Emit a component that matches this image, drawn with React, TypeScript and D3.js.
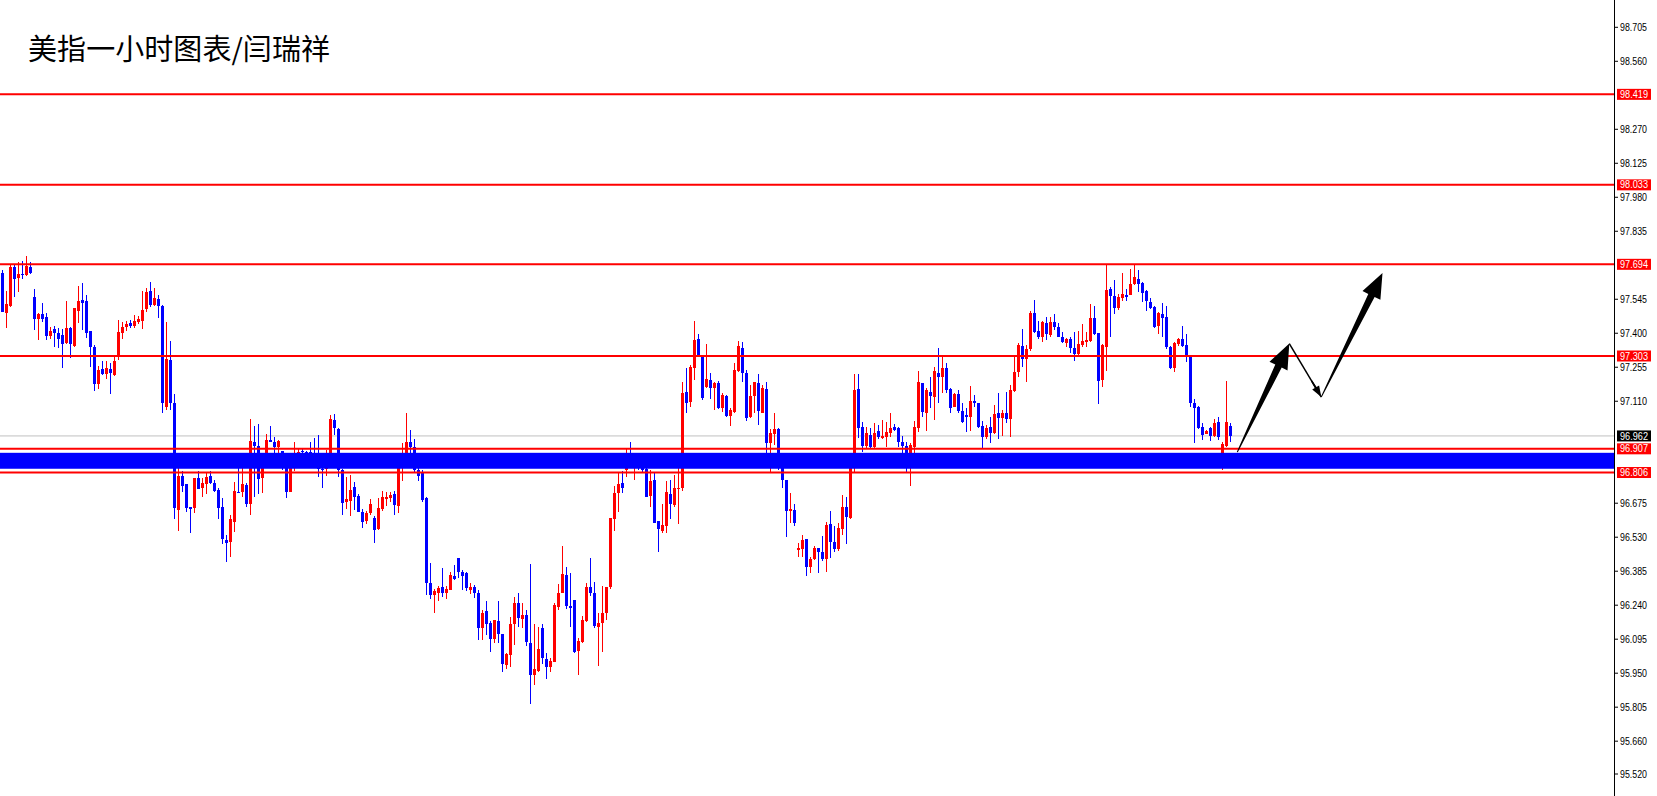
import * as d3 from 'd3';

const title = '美指一小时图表/闫瑞祥';

// hourly OHLC (oldest first)
const opens = [
  97.659, 97.487, 97.516, 97.684, 97.636, 97.653, 97.650, 97.684, 97.555, 97.459,
  97.482, 97.469, 97.390, 97.418, 97.401, 97.393, 97.358, 97.424, 97.347, 97.496,
  97.540, 97.538, 97.411, 97.343, 97.185, 97.247, 97.226, 97.247, 97.222, 97.303,
  97.400, 97.425, 97.445, 97.430, 97.449, 97.454, 97.505, 97.581, 97.522, 97.548,
  97.516, 97.087, 97.286, 97.101, 96.647, 96.791, 96.757, 96.660, 96.656, 96.784,
  96.741, 96.758, 96.791, 96.760, 96.733, 96.659, 96.518, 96.508, 96.596, 96.724,
  96.724, 96.752, 96.670, 96.936, 96.918, 96.781, 96.877, 96.944, 96.936, 96.916,
  96.899, 96.867, 96.724, 96.828, 96.871, 96.899, 96.894, 96.895, 96.888, 96.874,
  96.822, 96.819, 96.852, 97.030, 96.991, 96.816, 96.681, 96.686, 96.744, 96.706,
  96.639, 96.599, 96.632, 96.613, 96.565, 96.651, 96.693, 96.698, 96.714, 96.664,
  96.831, 96.866, 96.938, 96.916, 96.816, 96.802, 96.698, 96.336, 96.283, 96.290,
  96.317, 96.290, 96.304, 96.364, 96.440, 96.383, 96.376, 96.304, 96.318, 96.293,
  96.141, 96.216, 96.162, 96.094, 96.173, 96.116, 95.984, 96.027, 96.158, 96.248,
  96.183, 96.200, 96.077, 95.942, 95.960, 96.141, 96.009, 95.977, 95.998, 96.233,
  96.293, 96.368, 96.236, 96.262, 96.044, 96.084, 96.173, 96.316, 96.293, 96.148,
  96.162, 96.205, 96.316, 96.606, 96.717, 96.760, 96.816, 96.888, 96.838, 96.852,
  96.842, 96.819, 96.706, 96.774, 96.599, 96.558, 96.578, 96.714, 96.667, 96.735,
  96.738, 97.149, 97.108, 97.250, 97.376, 97.304, 97.172, 97.201, 97.168, 97.186,
  97.080, 97.134, 97.047, 97.064, 97.239, 97.338, 97.232, 97.044, 97.132, 97.186,
  97.061, 97.162, 96.930, 96.969, 96.991, 96.859, 96.774, 96.643, 96.646, 96.477,
  96.478, 96.521, 96.401, 96.435, 96.482, 96.465, 96.435, 96.585, 96.511, 96.479,
  96.563, 96.660, 96.613, 96.848, 97.162, 97.001, 96.921, 96.966, 96.916, 96.983,
  96.952, 96.959, 96.973, 96.999, 96.997, 96.938, 96.921, 96.866, 96.916, 96.997,
  97.186, 97.058, 97.151, 97.130, 97.229, 97.212, 97.253, 97.161, 97.087, 97.141,
  97.068, 97.051, 97.044, 97.111, 97.101, 97.004, 96.956, 96.999, 96.976, 97.061,
  97.040, 97.061, 97.033, 97.155, 97.233, 97.346, 97.289, 97.331, 97.488, 97.410,
  97.383, 97.445, 97.393, 97.447, 97.425, 97.385, 97.360, 97.376, 97.338, 97.310,
  97.350, 97.364, 97.367, 97.466, 97.400, 97.201, 97.343, 97.589, 97.559, 97.506,
  97.552, 97.563, 97.563, 97.609, 97.632, 97.613, 97.581, 97.535, 97.513, 97.431,
  97.482, 97.468, 97.343, 97.253, 97.353, 97.376, 97.350, 97.300, 97.101, 97.084,
  96.999, 96.970, 96.994, 96.962, 97.020, 96.835, 96.919, 97.004,
];

const highs = [
  97.670, 97.581, 97.696, 97.696, 97.703, 97.708, 97.730, 97.703, 97.589, 97.487,
  97.531, 97.486, 97.427, 97.432, 97.421, 97.417, 97.538, 97.428, 97.509, 97.602,
  97.613, 97.563, 97.411, 97.350, 97.260, 97.281, 97.281, 97.274, 97.303, 97.456,
  97.449, 97.454, 97.456, 97.478, 97.474, 97.581, 97.595, 97.619, 97.595, 97.565,
  97.521, 97.448, 97.367, 97.141, 96.877, 96.812, 96.757, 96.660, 96.784, 96.814,
  96.781, 96.802, 96.814, 96.776, 96.738, 96.696, 96.539, 96.624, 96.767, 96.824,
  96.842, 96.761, 97.034, 97.006, 97.014, 96.891, 96.970, 97.004, 96.956, 96.945,
  96.899, 96.874, 96.845, 96.934, 96.906, 96.905, 96.897, 96.938, 96.953, 96.966,
  96.859, 96.900, 97.051, 97.057, 96.994, 96.822, 96.785, 96.795, 96.765, 96.714,
  96.649, 96.643, 96.694, 96.620, 96.698, 96.727, 96.721, 96.724, 96.727, 96.849,
  96.930, 97.058, 96.987, 96.948, 96.838, 96.816, 96.703, 96.421, 96.307, 96.321,
  96.398, 96.321, 96.381, 96.411, 96.442, 96.390, 96.380, 96.333, 96.326, 96.304,
  96.219, 96.257, 96.172, 96.179, 96.257, 96.119, 96.034, 96.191, 96.276, 96.293,
  96.248, 96.219, 96.415, 96.159, 96.148, 96.159, 96.034, 96.013, 96.250, 96.329,
  96.492, 96.401, 96.376, 96.262, 96.101, 96.195, 96.336, 96.440, 96.337, 96.205,
  96.321, 96.318, 96.610, 96.748, 96.805, 96.812, 96.906, 96.938, 96.862, 96.859,
  96.852, 96.824, 96.816, 96.802, 96.599, 96.671, 96.770, 96.774, 96.795, 96.834,
  97.192, 97.250, 97.265, 97.452, 97.397, 97.307, 97.354, 97.229, 97.194, 97.196,
  97.144, 97.137, 97.080, 97.272, 97.367, 97.363, 97.243, 97.179, 97.194, 97.225,
  97.179, 97.191, 96.990, 97.058, 96.994, 96.866, 96.776, 96.720, 96.671, 96.506,
  96.539, 96.521, 96.444, 96.492, 96.486, 96.535, 96.596, 96.641, 96.579, 96.589,
  96.710, 96.703, 96.888, 97.225, 97.228, 97.023, 97.001, 96.994, 97.018, 97.009,
  97.030, 97.023, 97.061, 97.013, 97.001, 96.962, 96.935, 96.930, 97.026, 97.239,
  97.186, 97.165, 97.215, 97.258, 97.338, 97.303, 97.274, 97.165, 97.147, 97.158,
  97.104, 97.080, 97.176, 97.137, 97.104, 97.026, 97.009, 97.044, 97.094, 97.147,
  97.073, 97.149, 97.179, 97.303, 97.357, 97.417, 97.350, 97.495, 97.542, 97.454,
  97.454, 97.468, 97.471, 97.482, 97.445, 97.405, 97.380, 97.383, 97.405, 97.411,
  97.440, 97.405, 97.525, 97.516, 97.402, 97.354, 97.696, 97.599, 97.627, 97.568,
  97.656, 97.588, 97.674, 97.696, 97.670, 97.617, 97.585, 97.549, 97.516, 97.492,
  97.531, 97.516, 97.346, 97.364, 97.381, 97.431, 97.395, 97.303, 97.118, 97.091,
  97.018, 96.987, 96.999, 97.033, 97.041, 96.938, 97.196, 97.018,
];

const lows = [
  97.492, 97.423, 97.513, 97.556, 97.578, 97.630, 97.644, 97.653, 97.413, 97.371,
  97.449, 97.371, 97.376, 97.343, 97.338, 97.253, 97.353, 97.293, 97.341, 97.445,
  97.413, 97.381, 97.258, 97.155, 97.162, 97.223, 97.206, 97.142, 97.219, 97.288,
  97.377, 97.411, 97.421, 97.421, 97.440, 97.420, 97.492, 97.513, 97.516, 97.466,
  97.061, 97.074, 97.073, 96.609, 96.558, 96.722, 96.639, 96.549, 96.634, 96.734,
  96.700, 96.713, 96.757, 96.722, 96.606, 96.500, 96.426, 96.447, 96.553, 96.717,
  96.703, 96.660, 96.623, 96.700, 96.713, 96.717, 96.852, 96.935, 96.888, 96.878,
  96.818, 96.696, 96.724, 96.814, 96.845, 96.888, 96.874, 96.874, 96.859, 96.788,
  96.741, 96.792, 96.848, 96.967, 96.788, 96.624, 96.649, 96.620, 96.646, 96.639,
  96.570, 96.585, 96.624, 96.506, 96.562, 96.643, 96.664, 96.681, 96.624, 96.633,
  96.771, 96.834, 96.888, 96.802, 96.771, 96.681, 96.283, 96.265, 96.205, 96.259,
  96.276, 96.266, 96.304, 96.348, 96.358, 96.304, 96.300, 96.287, 96.269, 96.091,
  96.091, 96.115, 96.041, 96.077, 96.077, 95.953, 95.970, 95.977, 96.070, 96.148,
  96.141, 96.065, 95.818, 95.900, 95.956, 95.989, 95.927, 95.956, 95.998, 96.219,
  96.290, 96.223, 96.148, 96.034, 95.944, 96.080, 96.169, 96.279, 96.141, 95.981,
  96.041, 96.179, 96.311, 96.558, 96.639, 96.720, 96.788, 96.845, 96.776, 96.816,
  96.805, 96.700, 96.660, 96.589, 96.468, 96.549, 96.549, 96.606, 96.660, 96.586,
  96.728, 97.058, 97.087, 97.201, 97.300, 97.115, 97.168, 97.118, 97.073, 97.077,
  97.065, 97.044, 97.006, 97.058, 97.233, 97.193, 97.026, 97.040, 97.058, 97.009,
  97.058, 96.891, 96.805, 96.923, 96.816, 96.738, 96.532, 96.589, 96.578, 96.444,
  96.444, 96.366, 96.376, 96.432, 96.376, 96.430, 96.380, 96.440, 96.465, 96.472,
  96.539, 96.500, 96.606, 96.809, 96.954, 96.892, 96.906, 96.909, 96.909, 96.949,
  96.947, 96.916, 96.959, 96.983, 96.916, 96.888, 96.809, 96.750, 96.866, 96.980,
  97.044, 96.984, 97.080, 97.030, 97.104, 97.144, 97.147, 97.061, 97.084, 97.061,
  97.018, 96.980, 96.983, 97.087, 96.994, 96.912, 96.949, 96.930, 96.969, 96.947,
  96.963, 97.018, 96.959, 97.151, 97.212, 97.258, 97.193, 97.326, 97.400, 97.377,
  97.364, 97.371, 97.385, 97.413, 97.383, 97.357, 97.340, 97.317, 97.283, 97.307,
  97.343, 97.340, 97.364, 97.393, 97.098, 97.172, 97.239, 97.385, 97.482, 97.499,
  97.538, 97.539, 97.563, 97.606, 97.575, 97.532, 97.496, 97.504, 97.424, 97.397,
  97.385, 97.331, 97.246, 97.236, 97.346, 97.340, 97.279, 97.087, 96.930, 96.990,
  96.945, 96.969, 96.942, 96.956, 96.945, 96.816, 96.913, 96.935,
];

const closes = [
  97.492, 97.525, 97.684, 97.633, 97.653, 97.647, 97.687, 97.659, 97.460, 97.482,
  97.460, 97.390, 97.410, 97.402, 97.377, 97.354, 97.421, 97.353, 97.508, 97.538,
  97.531, 97.402, 97.343, 97.185, 97.243, 97.228, 97.252, 97.232, 97.281, 97.405,
  97.427, 97.441, 97.431, 97.454, 97.462, 97.500, 97.578, 97.521, 97.552, 97.516,
  97.101, 97.290, 97.101, 96.653, 96.791, 96.750, 96.656, 96.651, 96.784, 96.734,
  96.760, 96.786, 96.762, 96.728, 96.656, 96.521, 96.504, 96.607, 96.727, 96.720,
  96.755, 96.673, 96.941, 96.921, 96.777, 96.883, 96.944, 96.936, 96.916, 96.941,
  96.888, 96.724, 96.826, 96.874, 96.895, 96.892, 96.888, 96.881, 96.874, 96.819,
  96.816, 96.856, 97.033, 96.994, 96.816, 96.674, 96.693, 96.731, 96.703, 96.639,
  96.596, 96.632, 96.671, 96.562, 96.656, 96.700, 96.703, 96.710, 96.667, 96.841,
  96.871, 96.938, 96.916, 96.816, 96.792, 96.689, 96.333, 96.283, 96.300, 96.314,
  96.290, 96.307, 96.368, 96.351, 96.383, 96.366, 96.314, 96.318, 96.294, 96.141,
  96.205, 96.158, 96.094, 96.176, 96.119, 95.991, 96.030, 96.158, 96.248, 96.186,
  96.198, 96.081, 95.942, 95.966, 96.055, 96.013, 95.977, 96.003, 96.240, 96.293,
  96.371, 96.238, 96.226, 96.041, 96.087, 96.179, 96.316, 96.293, 96.151, 96.162,
  96.205, 96.316, 96.610, 96.717, 96.755, 96.738, 96.888, 96.859, 96.848, 96.824,
  96.816, 96.703, 96.771, 96.592, 96.563, 96.582, 96.721, 96.671, 96.738, 96.741,
  97.144, 97.101, 97.258, 97.371, 97.307, 97.125, 97.203, 97.165, 97.189, 97.080,
  97.137, 97.047, 97.073, 97.243, 97.346, 97.232, 97.040, 97.134, 97.191, 97.068,
  97.165, 96.933, 96.976, 96.991, 96.888, 96.774, 96.643, 96.650, 96.592, 96.482,
  96.518, 96.404, 96.437, 96.482, 96.468, 96.435, 96.582, 96.508, 96.479, 96.568,
  96.660, 96.617, 96.855, 97.158, 96.997, 96.919, 96.973, 96.916, 96.976, 96.956,
  96.962, 96.979, 96.997, 96.987, 96.935, 96.921, 96.881, 96.923, 97.001, 97.193,
  97.063, 97.158, 97.134, 97.239, 97.215, 97.250, 97.158, 97.083, 97.139, 97.068,
  97.023, 97.044, 97.111, 97.101, 96.999, 96.956, 96.997, 96.973, 97.055, 97.037,
  97.058, 97.033, 97.158, 97.233, 97.350, 97.289, 97.331, 97.488, 97.407, 97.383,
  97.449, 97.397, 97.449, 97.425, 97.385, 97.361, 97.374, 97.336, 97.310, 97.354,
  97.367, 97.371, 97.466, 97.395, 97.196, 97.350, 97.585, 97.559, 97.506, 97.553,
  97.568, 97.553, 97.610, 97.639, 97.609, 97.573, 97.538, 97.509, 97.428, 97.488,
  97.466, 97.343, 97.253, 97.357, 97.376, 97.346, 97.300, 97.104, 97.080, 96.997,
  96.966, 96.984, 96.962, 97.018, 96.956, 96.927, 97.020, 96.962,
];

const tickLabels = [
  '98.705', '98.560', '98.270', '98.125', '97.980', '97.835', '97.545', '97.400', '97.255',
  '97.110', '96.675', '96.530', '96.385', '96.240', '96.095', '95.950', '95.805', '95.660', '95.520',
];

// support / resistance lines drawn by hand
const levels = [98.419, 98.033, 97.694, 97.303, 96.907, 96.806];
const zone = [96.822, 96.890];
const lastPrice = 96.962;

// projected path (bar index, price)
const arrowBars = [308.7, 321.7, 329.7, 345];
const arrowPrices = [96.893, 97.356, 97.128, 97.657];

const W = 1657;
const H = 796;
const axisX = 1614;

function arrowPath(x0: number, y0: number, x1: number, y1: number, w0: number, w1: number, hl: number, hw: number) {
  const dx = x1 - x0, dy = y1 - y0;
  const len = Math.sqrt(dx * dx + dy * dy);
  const ux = dx / len, uy = dy / len;
  const nx = -uy, ny = ux;
  const bx = x1 - ux * hl, by = y1 - uy * hl;
  const pts = [
    [x0 + nx * w0 / 2, y0 + ny * w0 / 2],
    [bx + nx * w1 / 2, by + ny * w1 / 2],
    [bx + nx * hw / 2, by + ny * hw / 2],
    [x1, y1],
    [bx - nx * hw / 2, by - ny * hw / 2],
    [bx - nx * w1 / 2, by - ny * w1 / 2],
    [x0 - nx * w0 / 2, y0 - ny * w0 / 2],
  ];
  return 'M' + pts.map(p => p[0].toFixed(1) + ',' + p[1].toFixed(1)).join('L') + 'Z';
}

export default function App() {
  const n = Math.min(opens.length, highs.length, lows.length, closes.length);
  const x = d3.scaleLinear().domain([0, 403]).range([2.5, axisX + 0.5]);
  const y = d3.scaleLinear().domain([95.52, 98.705]).range([774, 27.3]);
  const labelFont = '"Liberation Sans", Arial, sans-serif';

  const candles = d3.range(n).map(i => {
    const o = opens[i], c = closes[i];
    const up = c > o;
    const col = up ? '#ff0000' : '#0000ff';
    const cx = x(i);
    const top = y(Math.max(o, c));
    const bot = y(Math.min(o, c));
    return (
      <g key={i}>
        <line x1={cx} x2={cx} y1={y(highs[i])} y2={y(lows[i])} stroke={col} strokeWidth={1} />
        <rect x={cx - 1.5} y={top} width={3} height={Math.max(1, bot - top)} fill={col} />
      </g>
    );
  });

  const ap = arrowBars.map((b, i) => [x(b), y(arrowPrices[i])]);

  return (
    <svg width={W} height={H} style={{ position: 'fixed', left: 0, top: 0, background: '#fff' }}
      fontFamily={labelFont}>
      <rect x={0} y={0} width={W} height={H} fill="#fff" />

      {/* current price line */}
      <line x1={0} x2={axisX} y1={y(lastPrice)} y2={y(lastPrice)} stroke="#c0c0c0" strokeWidth={1} />

      <g shapeRendering="crispEdges">{candles}</g>

      {/* zone */}
      <rect x={0} width={axisX} y={y(zone[1])} height={y(zone[0]) - y(zone[1])} fill="#0000ff" />

      {levels.map(v => (
        <line key={v} x1={0} x2={axisX} y1={y(v)} y2={y(v)} stroke="#ff0000" strokeWidth={2} />
      ))}

      {/* arrows */}
      <path d={arrowPath(ap[0][0], ap[0][1], ap[1][0], ap[1][1], 1, 7, 25, 20)} fill="#000" />
      <line x1={ap[1][0]} y1={ap[1][1]} x2={ap[2][0]} y2={ap[2][1]} stroke="#000" strokeWidth={1.5} />
      <path d={arrowPath(ap[1][0] + (ap[2][0] - ap[1][0]) * 0.7, ap[1][1] + (ap[2][1] - ap[1][1]) * 0.7,
        ap[2][0], ap[2][1], 1.5, 2, 11, 8)} fill="#000" />
      <path d={arrowPath(ap[2][0], ap[2][1], ap[3][0], ap[3][1], 1, 7, 25, 20)} fill="#000" />

      {/* price axis */}
      <line x1={axisX + 0.5} x2={axisX + 0.5} y1={0} y2={H} stroke="#000" strokeWidth={1} />
      {tickLabels.map(t => {
        const ty = y(+t);
        return (
          <g key={t}>
            <line x1={axisX} x2={axisX + 4} y1={ty} y2={ty} stroke="#000" strokeWidth={1} />
            <text x={1620} y={ty} dy="0.35em" fontSize={10} fill="#000" textLength={27}
              lengthAdjust="spacingAndGlyphs">{t}</text>
          </g>
        );
      })}
      {levels.map(v => (
        <g key={'l' + v}>
          <rect x={1617} y={y(v) - 5.5} width={34} height={11} fill="#ff0000" />
          <text x={1620} y={y(v)} dy="0.36em" fontSize={10} fill="#fff" textLength={28}
            lengthAdjust="spacingAndGlyphs">{v.toFixed(3)}</text>
        </g>
      ))}
      <rect x={1617} y={y(lastPrice) - 5.5} width={34} height={11} fill="#000" />
      <text x={1620} y={y(lastPrice)} dy="0.36em" fontSize={10} fill="#fff" textLength={28}
        lengthAdjust="spacingAndGlyphs">{lastPrice.toFixed(3)}</text>

      <text x={28} y={60} fontSize={29} fill="#000" fontFamily='"Noto Sans CJK SC", sans-serif'
        textLength={302} lengthAdjust="spacing">{title}</text>
    </svg>
  );
}
